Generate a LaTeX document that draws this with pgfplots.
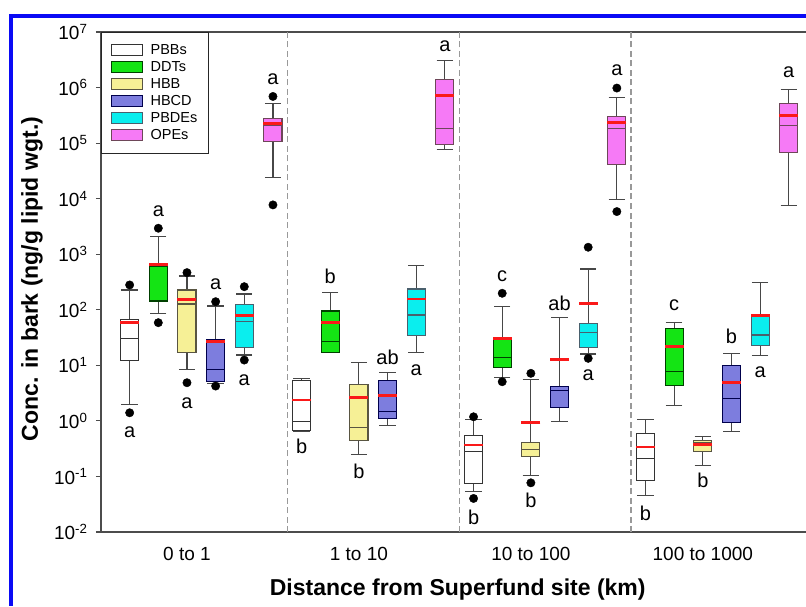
\documentclass[border=0pt]{standalone}
\usepackage{fontspec}
\setmainfont{Liberation Sans}
\usepackage{pgfplots}
\pgfplotsset{compat=1.18}
\usepgfplotslibrary{statistics}
\definecolor{ddtfill}{RGB}{20,228,20}
\definecolor{hbbfill}{RGB}{246,240,150}
\definecolor{hbcdfill}{RGB}{125,125,222}
\definecolor{pbdefill}{RGB}{10,238,238}
\definecolor{opefill}{RGB}{246,122,246}
\definecolor{meanred}{RGB}{250,25,25}
\definecolor{frameblue}{RGB}{10,10,245}

\pgfplotsset{
  pbb/.style={draw=black!80, fill=white},
  ddt/.style={draw=black!75!green, fill=ddtfill},
  hbb/.style={draw=black!75!yellow, fill=hbbfill},
  hbcd/.style={draw=black!70!blue, fill=hbcdfill},
  pbde/.style={draw=black!65!cyan, fill=pbdefill},
  ope/.style={draw=black!65!magenta, fill=opefill},
}

\begin{document}
\begin{tikzpicture}
\useasboundingbox (0pt,0pt) rectangle (806pt,606pt);
\fill[frameblue] (9pt,0pt) rectangle (13pt,592pt);
\fill[frameblue] (9pt,588pt) rectangle (806pt,592pt);
% all y values are log10 of the concentration (ng/g lipid wgt.)
\begin{axis}[
    at={(101pt,74pt)}, anchor=south west,
    scale only axis, width=705pt, height=500pt,
    ymin=-2, ymax=7,
    xmin=-0.5, xmax=3.6,
    axis x line*=box, axis y line*=left,
    axis line style={draw=black!70, line width=1.3pt},
    xtick={0,1,2,3},
    xticklabels={0 to 1, 1 to 10, 10 to 100, 100 to 1000},
    major x tick style={draw=none},
    extra x ticks={0.583,1.583,2.583},
    extra x tick labels={},
    extra x tick style={grid=major, major grid style={dash pattern=on 6pt off 3.5pt, black!40, line width=1.3pt}, major tick length=0pt},
    ytick={-2,-1,0,1,2,3,4,5,6,7},
    yticklabels={10\textsuperscript{-2},10\textsuperscript{-1},10\textsuperscript{0},10\textsuperscript{1},10\textsuperscript{2},10\textsuperscript{3},10\textsuperscript{4},10\textsuperscript{5},10\textsuperscript{6},10\textsuperscript{7}},
    tick align=outside, major tick length=5pt,
    y tick style={black!70, line width=1.2pt},
    tick label style={font=\fontsize{19}{22}\selectfont},
    xticklabel style={yshift=-7pt},
    yticklabel style={xshift=-5pt},
    xlabel={\bfseries Distance from Superfund site (km)},
    ylabel={\bfseries Conc. in bark (ng/g lipid wgt.)},
    label style={font=\fontsize{23}{26}\selectfont},
    xlabel style={at={(axis description cs:0.506,0)}, anchor=center, yshift=-58pt},
    ylabel style={at={(axis description cs:-0.098,0.506)}, anchor=center},
    legend cell align=left,
    legend style={at={(0,1)}, anchor=north west, draw=black!85, line width=1.2pt,
      font=\fontsize{14.5}{16}\selectfont, inner xsep=9pt, inner ysep=10pt, row sep=1.5pt,
      /tikz/every odd column/.append style={column sep=6pt}},
    legend image code/.code={\draw[#1, line width=1pt] (0pt,-5pt) rectangle (31pt,5.5pt);},
    boxplot/draw direction=y,
    boxplot/box extend=0.105,
    boxplot/whisker extend=0.095,
    boxplot/every whisker/.style={draw=black!72, line width=1.1pt},
    boxplot/every median/.style={line width=1.1pt},
    boxplot/every box/.style={line width=1.1pt},
]
\addlegendimage{pbb}\addlegendentry{PBBs}
\addlegendimage{ddt}\addlegendentry{DDTs}
\addlegendimage{hbb}\addlegendentry{HBB}
\addlegendimage{hbcd}\addlegendentry{HBCD}
\addlegendimage{pbde}\addlegendentry{PBDEs}
\addlegendimage{ope}\addlegendentry{OPEs}

% 0 to 1 km
\addplot[pbb, forget plot, boxplot prepared={draw position=-0.3333, lower whisker=0.303, lower quartile=1.095, median=1.486, upper quartile=1.829, upper whisker=2.357}] coordinates {};
\addplot[ddt, forget plot, boxplot prepared={draw position=-0.1667, lower whisker=1.937, lower quartile=2.158, median=2.78, upper quartile=2.83, upper whisker=3.317}] coordinates {};
\addplot[hbb, forget plot, boxplot prepared={draw position=0, lower whisker=0.928, lower quartile=1.234, median=2.104, upper quartile=2.357, upper whisker=2.609}] coordinates {};
\addplot[hbcd, forget plot, boxplot prepared={draw position=0.1667, lower whisker=0.676, lower quartile=0.705, median=0.928, upper quartile=1.456, upper whisker=2.068}] coordinates {};
\addplot[pbde, forget plot, boxplot prepared={draw position=0.3333, lower whisker=1.186, lower quartile=1.317, median=1.786, upper quartile=2.099, upper whisker=2.285}] coordinates {};
\addplot[ope, forget plot, boxplot prepared={draw position=0.5, lower whisker=4.38, lower quartile=5.029, median=5.312, upper quartile=5.438, upper whisker=5.72}] coordinates {};

% 1 to 10 km
\addplot[pbb, forget plot, boxplot prepared={draw position=0.6667, lower whisker=-0.19, lower quartile=-0.178, median=-0.016, upper quartile=0.735, upper whisker=0.766}] coordinates {};
\addplot[ddt, forget plot, boxplot prepared={draw position=0.8333, lower whisker=1.225, lower quartile=1.234, median=1.425, upper quartile=1.978, upper whisker=2.308}] coordinates {};
\addplot[hbb, forget plot, boxplot prepared={draw position=1, lower whisker=-0.598, lower quartile=-0.359, median=-0.117, upper quartile=0.657, upper whisker=1.047}] coordinates {};
\addplot[hbcd, forget plot, boxplot prepared={draw position=1.1667, lower whisker=-0.076, lower quartile=0.045, median=0.177, upper quartile=0.722, upper whisker=0.867}] coordinates {};
\addplot[pbde, forget plot, boxplot prepared={draw position=1.3333, lower whisker=1.227, lower quartile=1.534, median=1.906, upper quartile=2.375, upper whisker=2.795}] coordinates {};
\addplot[ope, forget plot, boxplot prepared={draw position=1.5, lower whisker=4.885, lower quartile=4.982, median=5.258, upper quartile=6.153, upper whisker=6.483}] coordinates {};

% 10 to 100 km
\addplot[pbb, forget plot, boxplot prepared={draw position=1.6667, lower whisker=-1.277, lower quartile=-1.126, median=-0.557, upper quartile=-0.256, upper whisker=0.027}] coordinates {};
\addplot[ddt, forget plot, boxplot prepared={draw position=1.8333, lower whisker=0.784, lower quartile=0.964, median=1.144, upper quartile=1.486, upper whisker=2.056}] coordinates {};
\addplot[hbb, forget plot, boxplot prepared={draw position=2, lower whisker=-0.977, lower quartile=-0.647, median=-0.508, upper quartile=-0.387, upper whisker=0.748}] coordinates {};
\addplot[hbcd, forget plot, boxplot prepared={draw position=2.1667, lower whisker=-0.004, lower quartile=0.243, median=0.555, upper quartile=0.627, upper whisker=1.865}] coordinates {};
\addplot[pbde, forget plot, boxplot prepared={draw position=2.3333, lower whisker=1.204, lower quartile=1.317, median=1.587, upper quartile=1.757, upper whisker=2.735}] coordinates {};
\addplot[ope, forget plot, boxplot prepared={draw position=2.5, lower whisker=3.991, lower quartile=4.609, median=5.258, upper quartile=5.479, upper whisker=5.829}] coordinates {};

% 100 to 1000 km
\addplot[pbb, forget plot, boxplot prepared={draw position=2.6667, lower whisker=-1.349, lower quartile=-1.079, median=-0.676, upper quartile=-0.225, upper whisker=0.027}] coordinates {};
\addplot[ddt, forget plot, boxplot prepared={draw position=2.8333, lower whisker=0.285, lower quartile=0.645, median=0.885, upper quartile=1.659, upper whisker=1.768}] coordinates {};
\addplot[hbb, forget plot, boxplot prepared={draw position=3, lower whisker=-0.809, lower quartile=-0.557, median=-0.387, upper quartile=-0.346, upper whisker=-0.274}] coordinates {};
\addplot[hbcd, forget plot, boxplot prepared={draw position=3.1667, lower whisker=-0.196, lower quartile=-0.027, median=0.405, upper quartile=0.993, upper whisker=1.216}] coordinates {};
\addplot[pbde, forget plot, boxplot prepared={draw position=3.3333, lower whisker=1.173, lower quartile=1.353, median=1.546, upper quartile=1.919, upper whisker=2.495}] coordinates {};
\addplot[ope, forget plot, boxplot prepared={draw position=3.5, lower whisker=3.870, lower quartile=4.830, median=5.312, upper quartile=5.721, upper whisker=5.973}] coordinates {};

% means (red bars)
\addplot[only marks, mark=-, mark size=9.5pt, mark options={line width=2.6pt}, color=meanred, forget plot] coordinates {
  (-0.3333,1.775) (-0.1667,2.81) (0,2.189) (0.1667,1.425) (0.3333,1.894) (0.5,5.348)
  (0.6667,0.375) (0.8333,1.768) (1,0.423) (1.1667,0.452) (1.3333,2.195) (1.5,5.858)
  (1.6667,-0.436) (1.8333,1.48) (2,-0.034) (2.1667,1.108) (2.3333,2.117) (2.5,5.371)
  (2.6667,-0.467) (2.8333,1.335) (3,-0.424) (3.1667,0.694) (3.3333,1.90) (3.5,5.492)
};

% outliers
\addplot[only marks, mark=*, mark size=4.2pt, black, forget plot] coordinates {
  (-0.3333,2.447) (-0.3333,0.146) (-0.1667,3.468) (-0.1667,1.768) (0,2.669) (0,0.687)
  (0.1667,2.146) (0.1667,0.627) (0.3333,2.416) (0.3333,1.095) (0.5,5.84) (0.5,3.888)
  (1.6667,0.074) (1.6667,-1.396) (1.8333,2.297) (1.8333,0.705) (2,0.856) (2,-1.115)
  (2.3333,3.126) (2.3333,1.126) (2.5,5.991) (2.5,3.768)
};

% significance letters
\begin{scope}[every node/.style={font=\fontsize{20}{22}\selectfont, anchor=center, inner sep=0pt}]
\node at (axis cs:-0.3333,-0.202) {a};
\node at (axis cs:-0.1667,3.768) {a};
\node at (axis cs:0,0.326) {a};
\node at (axis cs:0.1667,2.465) {a};
\node at (axis cs:0.3333,0.735) {a};
\node at (axis cs:0.5,6.153) {a};
\node at (axis cs:0.6667,-0.467) {b};
\node at (axis cs:0.8333,2.596) {b};
\node at (axis cs:1,-0.917) {b};
\node at (axis cs:1.1667,1.144) {ab};
\node at (axis cs:1.3333,0.915) {a};
\node at (axis cs:1.5,6.753) {a};
\node at (axis cs:1.6667,-1.739) {b};
\node at (axis cs:1.8333,2.596) {c};
\node at (axis cs:2,-1.427) {b};
\node at (axis cs:2.1667,2.117) {ab};
\node at (axis cs:2.3333,0.825) {a};
\node at (axis cs:2.5,6.308) {a};
\node at (axis cs:2.6667,-1.667) {b};
\node at (axis cs:2.8333,2.086) {c};
\node at (axis cs:3,-1.067) {b};
\node at (axis cs:3.1667,1.528) {b};
\node at (axis cs:3.3333,0.885) {a};
\node at (axis cs:3.5,6.272) {a};
\end{scope}
\end{axis}
\end{tikzpicture}
\end{document}
